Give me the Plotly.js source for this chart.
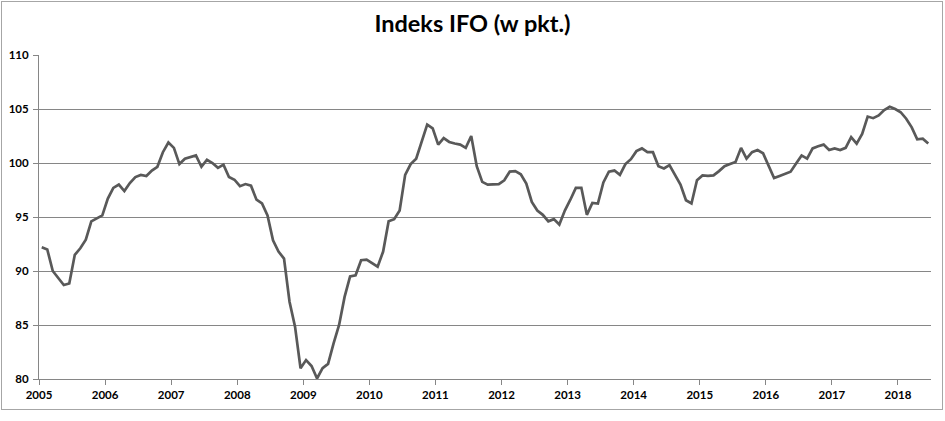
<!DOCTYPE html>
<html>
<head>
<meta charset="utf-8">
<script src="https://cdn.plot.ly/plotly-3.0.1.min.js"></script>
<style>
  body { margin: 0; background: #fff; }
  #chart { position: absolute; left: 0; top: 0; width: 945px; height: 421px; }
  #frame { position: absolute; left: 1px; top: 1px; width: 940px; height: 407px;
           border: 1px solid #a6a6a6; pointer-events: none; }
</style>
</head>
<body>
<div id="chart"></div>
<div id="frame"></div>
<script>
'use strict';

// Indeks IFO, miesiecznie, od 2005-01 do 2018-06
var ifoValues = [
  92.2, 92.0, 90.0, 89.4, 88.7, 88.85, 91.5, 92.1, 92.9, 94.6, 94.85, 95.15,      // 2005
  96.7, 97.7, 98.0, 97.4, 98.15, 98.7, 98.9, 98.8, 99.3, 99.65, 101.0, 101.9,     // 2006
  101.4, 99.9, 100.4, 100.55, 100.7, 99.65, 100.3, 100.0, 99.55, 99.85, 98.7, 98.45, // 2007
  97.85, 98.05, 97.9, 96.6, 96.25, 95.15, 92.85, 91.8, 91.15, 87.15, 84.85, 81.0, // 2008
  81.75, 81.2, 80.05, 81.0, 81.4, 83.3, 85.0, 87.6, 89.5, 89.6, 91.0, 91.05,      // 2009
  90.7, 90.4, 91.8, 94.6, 94.8, 95.6, 98.9, 99.9, 100.4, 101.95, 103.55, 103.2,   // 2010
  101.7, 102.3, 101.95, 101.8, 101.7, 101.4, 102.5, 99.7, 98.25, 98.0, 98.0, 98.05, // 2011
  98.4, 99.2, 99.25, 98.95, 98.1, 96.4, 95.6, 95.2, 94.6, 94.8, 94.3, 95.6,       // 2012
  96.6, 97.7, 97.7, 95.2, 96.3, 96.25, 98.2, 99.2, 99.3, 98.9, 99.9, 100.35,      // 2013
  101.1, 101.35, 101.0, 101.0, 99.7, 99.5, 99.8, 98.9, 98.0, 96.55, 96.25, 98.4,  // 2014
  98.85, 98.8, 98.85, 99.25, 99.7, 99.9, 100.1, 101.4, 100.4, 101.0, 101.2, 100.9, // 2015
  99.7, 98.6, 98.8, 99.0, 99.2, 99.95, 100.7, 100.4, 101.35, 101.55, 101.7, 101.2, // 2016
  101.35, 101.2, 101.4, 102.4, 101.8, 102.7, 104.3, 104.15, 104.4, 104.9, 105.2, 105.0, // 2017
  104.7, 104.1, 103.3, 102.2, 102.25, 101.8                                       // 2018
];

var years = ['2005', '2006', '2007', '2008', '2009', '2010', '2011',
             '2012', '2013', '2014', '2015', '2016', '2017', '2018'];

var yTicks = [80, 85, 90, 95, 100, 105, 110];

var months = ifoValues.map(function (v, i) { return i; });
// granice lat (os kategorii: znaczniki miedzy kategoriami)
var yearTickPos = years.map(function (y, i) { return i * 12 - 0.5; });

var axisGrey = '#868686';
var font = { family: 'Lato, "Liberation Sans", sans-serif', size: 11.5, color: '#000' };

var data = [{
  x: months,
  y: ifoValues,
  type: 'scatter',
  mode: 'lines',
  line: { color: '#595959', width: 2.7 },
  hoverinfo: 'y'
}];

var layout = {
  width: 945,
  height: 421,
  margin: { l: 39, r: 14, t: 55, b: 42 },
  paper_bgcolor: '#fff',
  plot_bgcolor: '#fff',
  showlegend: false,
  font: font,
  title: {
    text: '<b>Indeks IFO (w pkt.)</b>',
    font: { family: 'Lato, "Liberation Sans", sans-serif', size: 23.5, color: '#000' },
    x: 0.5,
    xref: 'container',
    xanchor: 'center',
    y: 1 - 24 / 421,
    yref: 'container',
    yanchor: 'middle'
  },
  xaxis: {
    range: [-0.5, ifoValues.length - 0.5],
    tickmode: 'array',
    tickvals: yearTickPos,
    ticktext: years.map(function (y) { return '<b>' + y + '</b>'; }),
    ticklabelshift: 2.7,
    ticks: 'outside',
    ticklen: 5,
    tickcolor: axisGrey,
    showgrid: false,
    showline: true,
    linecolor: axisGrey,
    linewidth: 1,
    zeroline: false,
    fixedrange: true
  },
  yaxis: {
    range: [80, 110],
    tickmode: 'array',
    tickvals: yTicks,
    ticktext: yTicks.map(function (t) { return '<b>' + t + '</b>'; }),
    ticks: 'outside',
    ticklen: 5,
    tickcolor: axisGrey,
    ticklabelstandoff: 2,
    showgrid: true,
    gridcolor: axisGrey,
    gridwidth: 1,
    showline: true,
    linecolor: axisGrey,
    linewidth: 1,
    zeroline: false,
    fixedrange: true
  }
};

Plotly.newPlot('chart', data, layout, { staticPlot: true, displayModeBar: false });
</script>
</body>
</html>
